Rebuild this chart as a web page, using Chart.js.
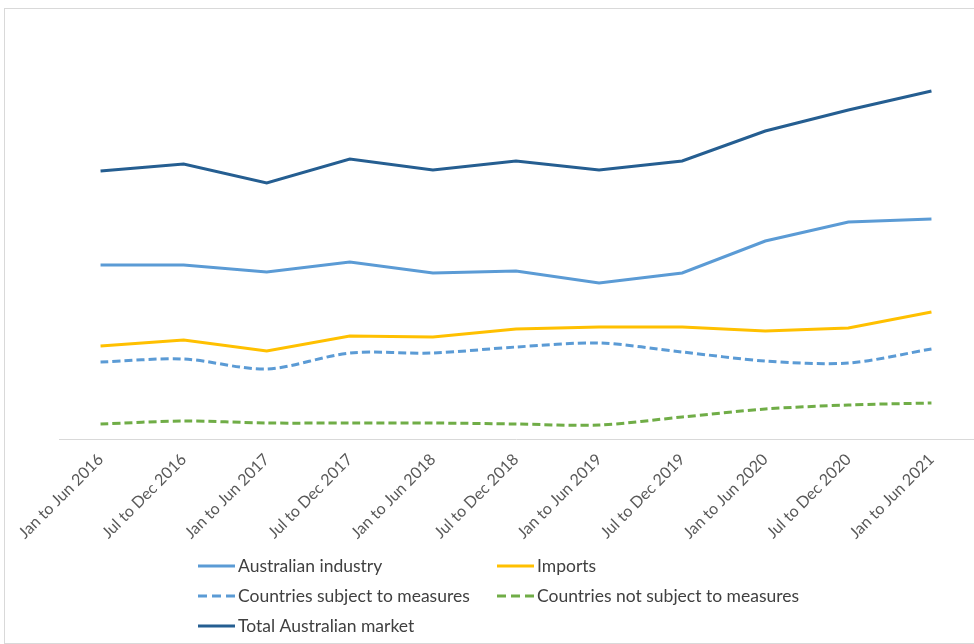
<!DOCTYPE html>
<html>
<head>
<meta charset="utf-8">
<script src="https://cdn.jsdelivr.net/npm/chart.js@4/dist/chart.umd.min.js"></script>
<style>
    html, body { margin: 0; padding: 0; background: #fff; }
    #wrap { position: relative; width: 974px; height: 644px; overflow: hidden; }
    #frame { position: absolute; left: 4px; top: 8px; width: 1000px; height: 634px; border: 1px solid #d9d9d9; }
    #chart { position: absolute; left: 0; top: 0; }
</style>
</head>
<body>
<div id="wrap">
    <div id="frame"></div>
    <canvas id="chart" width="974" height="644"></canvas>
</div>
<script>
// Half-year periods on the x axis.
var periods = ['Jan to Jun 2016', 'Jul to Dec 2016', 'Jan to Jun 2017', 'Jul to Dec 2017',
    'Jan to Jun 2018', 'Jul to Dec 2018', 'Jan to Jun 2019', 'Jul to Dec 2019',
    'Jan to Jun 2020', 'Jul to Dec 2020', 'Jan to Jun 2021'];

// Values (index, no unit shown).
var australianIndustry = [174, 174, 167, 177, 166, 168, 156, 166, 198, 217, 220];
var imports = [93, 99, 88, 103, 102, 110, 112, 112, 108, 111, 127];
var subjectCountries = [77, 80, 70, 86, 86, 92, 96, 87, 78, 76, 90];
var nonSubjectCountries = [15, 18, 16, 16, 16, 15, 14, 22, 30, 34, 36];
var totalMarket = [268, 275, 256, 280, 269, 278, 269, 278, 308, 329, 348];

var fontFamily = 'Lato, "Open Sans", sans-serif';

// Legend slots: [column, row] for each dataset in order.
var legendSlots = [[0, 0], [1, 0], [0, 1], [1, 1], [0, 2]];

/**
 * Draw the legend as a two column grid under the axis labels.
 */
var gridLegend = {
    id: 'gridLegend',
    afterDraw: function (chart) {
        var ctx = chart.ctx;
        var colX = [198, 497];
        var rowY = [566, 596, 626];
        ctx.save();
        ctx.font = '17.5px ' + fontFamily;
        ctx.textBaseline = 'middle';
        chart.data.datasets.forEach(function (ds, i) {
            var x = colX[legendSlots[i][0]];
            var y = rowY[legendSlots[i][1]];
            ctx.strokeStyle = ds.borderColor;
            ctx.lineWidth = 3;
            ctx.setLineDash(ds.borderDash ? [9, 5] : []);
            ctx.beginPath();
            ctx.moveTo(x, y);
            ctx.lineTo(x + 37, y);
            ctx.stroke();
            ctx.setLineDash([]);
            ctx.fillStyle = '#404040';
            ctx.fillText(ds.label, x + 40, y);
        });
        ctx.restore();
    }
};

function line(label, data, color, dashed) {
    return {
        label: label,
        data: data,
        borderColor: color,
        backgroundColor: color,
        borderWidth: 3,
        borderDash: dashed ? [8, 4] : undefined,
        tension: dashed ? 0.3 : 0,
        pointRadius: 0,
        fill: false
    };
}

var ctx = document.getElementById('chart');
new Chart(ctx, {
    type: 'line',
    data: {
        labels: periods,
        datasets: [
            line('Australian industry', australianIndustry, '#5B9BD5', false),
            line('Imports', imports, '#FFC000', false),
            line('Countries subject to measures', subjectCountries, '#5B9BD5', true),
            line('Countries not subject to measures', nonSubjectCountries, '#70AD47', true),
            line('Total Australian market', totalMarket, '#255E91', false)
        ]
    },
    options: {
        responsive: false,
        animation: false,
        layout: {
            padding: { left: 59, right: 1, top: 19, bottom: 100 }
        },
        plugins: {
            legend: { display: false },
            tooltip: { enabled: false },
            title: { display: false }
        },
        scales: {
            x: {
                offset: true,
                grid: { display: false },
                border: { display: true, color: '#d9d9d9', width: 1 },
                ticks: {
                    minRotation: 45,
                    maxRotation: 45,
                    autoSkip: false,
                    padding: 3,
                    color: '#595959',
                    font: { family: fontFamily, size: 16 }
                },
                afterFit: function (scale) {
                    scale.height = 105;
                }
            },
            y: {
                display: false,
                min: 0,
                max: 420
            }
        }
    },
    plugins: [gridLegend]
});
</script>
</body>
</html>
